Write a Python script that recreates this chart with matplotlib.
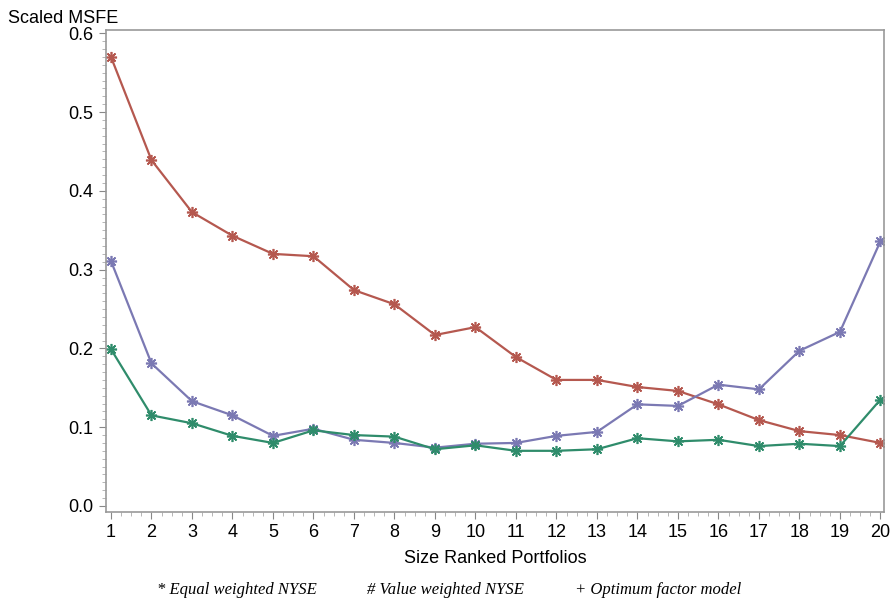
import matplotlib
matplotlib.use("Agg")
import matplotlib.pyplot as plt
from matplotlib.ticker import MultipleLocator

portfolios = list(range(1, 21))
equal_nyse = [0.570, 0.439, 0.373, 0.343, 0.320, 0.317, 0.274, 0.256, 0.217, 0.227,
              0.189, 0.160, 0.160, 0.151, 0.146, 0.129, 0.109, 0.095, 0.090, 0.080]
value_nyse = [0.311, 0.181, 0.133, 0.115, 0.089, 0.098, 0.084, 0.080, 0.074, 0.079,
              0.080, 0.089, 0.094, 0.129, 0.127, 0.154, 0.148, 0.197, 0.221, 0.336]
optimum = [0.199, 0.115, 0.105, 0.089, 0.080, 0.096, 0.090, 0.088, 0.072, 0.077,
           0.070, 0.070, 0.072, 0.086, 0.082, 0.084, 0.076, 0.079, 0.076, 0.135]
yticks = [0.0, 0.1, 0.2, 0.3, 0.4, 0.5, 0.6]
legend_items = ["* Equal weighted NYSE", "# Value weighted NYSE", "+ Optimum factor model"]

plt.rcParams["font.family"] = ["Liberation Sans", "DejaVu Sans"]

fig = plt.figure(figsize=(8.93, 6.03), dpi=100)
ax = fig.add_axes([0.1187, 0.151, 0.8713, 0.799])

star = (8, 2, 0)
ax.plot(portfolios, equal_nyse, color="#b5584f", lw=1.6, marker=star, ms=8, mew=1.2)
ax.plot(portfolios, value_nyse, color="#7b79b3", lw=1.6, marker=star, ms=8, mew=1.2)
ax.plot(portfolios, optimum, color="#2f8c6b", lw=1.6, marker=star, ms=8, mew=1.2)

ax.set_xlim(0.877, 20.09)
ax.set_ylim(-0.0076, 0.604)
ax.set_xticks(portfolios)
ax.set_yticks(yticks)
ax.set_yticklabels([f"{v:.1f}" for v in yticks])
ax.xaxis.set_minor_locator(MultipleLocator(0.25))
ax.yaxis.set_minor_locator(MultipleLocator(0.01))
ax.tick_params(axis="both", which="major", labelsize=13, length=5, color="#888888", pad=4)
ax.tick_params(axis="both", which="minor", length=3, color="#aaaaaa")
ax.tick_params(axis="x", which="both", top=False)
ax.tick_params(axis="y", which="both", right=False)
for s in ax.spines.values():
    s.set_color("#999999")
    s.set_linewidth(1.2)

ax.set_xlabel("Size Ranked Portfolios", fontsize=13, labelpad=6)
fig.text(0.009, 0.970, "Scaled MSFE", fontsize=13, ha="left", va="center")

# legend line under the axis title, serif italic
legend_x = [0.176, 0.411, 0.644]
for x, txt in zip(legend_x, legend_items):
    fig.text(x, 0.022, txt, fontsize=12, family="Liberation Serif",
             style="italic", ha="left", va="center")

fig.savefig("out.png", dpi=100)
